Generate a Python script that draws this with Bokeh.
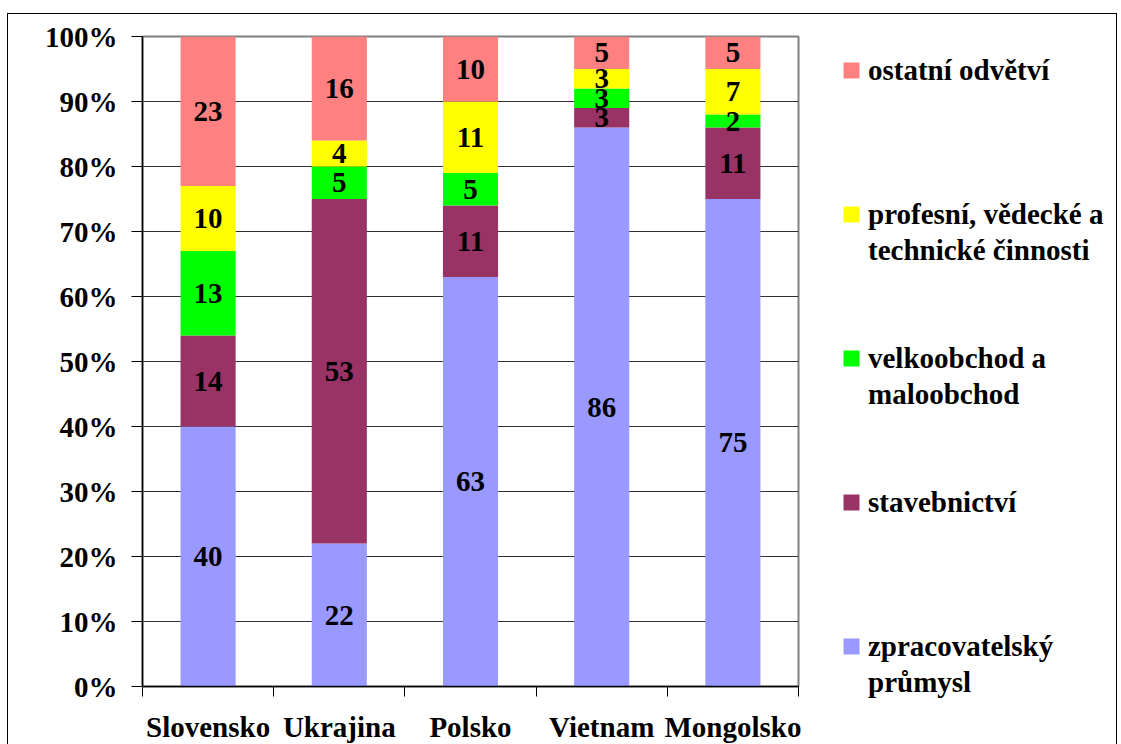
from bokeh.plotting import figure
from bokeh.models import (ColumnDataSource, Range1d, FixedTicker, PrintfTickFormatter,
                          Legend, LegendItem, LinearAxis, InlineStyleSheet)
from bokeh.core.properties import value
from bokeh.embed import file_html
from bokeh.resources import INLINE

# ---- data ----
categories = ["Slovensko", "Ukrajina", "Polsko", "Vietnam", "Mongolsko"]
series_keys = ["zpracovatelsky", "stavebnictvi", "velkoobchod", "profesni", "ostatni"]
legend_lines = [["zpracovatelský", "průmysl"], ["stavebnictví"], ["velkoobchod a", "maloobchod"],
                ["profesní, vědecké a", "technické činnosti"], ["ostatní odvětví"]]
zpracovatelsky = [40, 22, 63, 86, 75]
stavebnictvi = [14, 53, 11, 3, 11]
velkoobchod = [13, 5, 5, 3, 2]
profesni = [10, 4, 11, 3, 7]
ostatni = [23, 16, 10, 5, 5]
colors = ["#9999FF", "#993366", "#00FF00", "#FFFF00", "#FF8080"]
y_ticks = [0, 10, 20, 30, 40, 50, 60, 70, 80, 90, 100]

FONT = "Liberation Serif"
FS = "29px"

series = [zpracovatelsky, stavebnictvi, velkoobchod, profesni, ostatni]
xc = [i + 0.5 for i in range(len(categories))]
data = {"x": xc}
for k, s in zip(series_keys, series):
    data[k] = s
source = ColumnDataSource(data)

p = figure(frame_width=656, frame_height=650,
           min_border_left=142, min_border_right=315, min_border_top=36, min_border_bottom=58,
           x_range=Range1d(0, len(categories)), y_range=Range1d(0, 100),
           output_backend="svg", toolbar_location=None,
           x_axis_location=None, y_axis_location=None)
p.outline_line_color = "#808080"
p.outline_line_width = 2
p.background_fill_color = "white"
p.border_fill_color = "white"
p.stylesheets = [InlineStyleSheet(css=":host::after{content:'';position:absolute;left:7px;top:13px;"
                                      "width:1110px;height:900px;border:1.5px solid black;"
                                      "box-sizing:border-box;pointer-events:none;}")]

# grid
p.xgrid.visible = False
p.ygrid.ticker = FixedTicker(ticks=y_ticks)
p.ygrid.grid_line_color = "#303030"
p.ygrid.grid_line_width = 1

renderers = p.vbar_stack(series_keys, x="x", width=0.42, source=source,
                         color=colors, line_color=None)

# labels
lx, ly, lt = [], [], []
bottom = [0] * len(categories)
for s in series:
    for i, v in enumerate(s):
        lx.append(xc[i])
        ly.append(bottom[i] + v / 2)
        lt.append(str(v))
        bottom[i] += v
p.text(x=lx, y=ly, text=lt, text_align="center", text_baseline="middle",
       text_font=value(FONT), text_font_style="bold", text_font_size=FS, text_color="black")

# y axis
yaxis = LinearAxis(ticker=FixedTicker(ticks=y_ticks), formatter=PrintfTickFormatter(format="%d%%"))
yaxis.major_tick_in = 0
yaxis.major_tick_out = 11
yaxis.minor_tick_line_color = None
yaxis.major_label_standoff = 14
yaxis.major_label_text_font = FONT
yaxis.major_label_text_font_style = "bold"
yaxis.major_label_text_font_size = FS
yaxis.major_label_text_color = "black"
yaxis.axis_line_color = "black"
yaxis.axis_line_width = 1.5
yaxis.major_tick_line_color = "black"
p.add_layout(yaxis, "left")

# x axis
xaxis = LinearAxis(ticker=FixedTicker(ticks=xc, minor_ticks=list(range(len(categories) + 1))))
xaxis.major_label_overrides = {x: c for x, c in zip(xc, categories)}
xaxis.major_tick_line_color = None
xaxis.minor_tick_in = 0
xaxis.minor_tick_out = 10
xaxis.minor_tick_line_color = "black"
xaxis.major_label_standoff = 14
xaxis.major_label_text_font = FONT
xaxis.major_label_text_font_style = "bold"
xaxis.major_label_text_font_size = FS
xaxis.major_label_text_color = "black"
xaxis.axis_line_color = "black"
xaxis.axis_line_width = 1.5
p.add_layout(xaxis, "below")

# legend (top to bottom); every entry takes four equal rows
ROWS = 4
items = []
order = list(range(len(series)))[::-1]
for n, i in enumerate(order):
    lines = legend_lines[i]
    items.append(LegendItem(label=lines[0], renderers=[renderers[i]]))
    for extra in lines[1:]:
        items.append(LegendItem(label=extra, renderers=[]))
    if n < len(order) - 1:
        for _ in range(ROWS - len(lines)):
            items.append(LegendItem(label=" ", renderers=[]))
lg = Legend(items=items, location=(43, -14), padding=0, margin=0,
            border_line_color=None, background_fill_alpha=0,
            glyph_width=20, glyph_height=20, label_standoff=7,
            label_text_font=FONT, label_text_font_style="bold",
            label_text_color="black",
            label_text_font_size=FS, label_height=36, spacing=0)
p.add_layout(lg, "right")

open("out.html", "w").write(file_html(p, INLINE))
